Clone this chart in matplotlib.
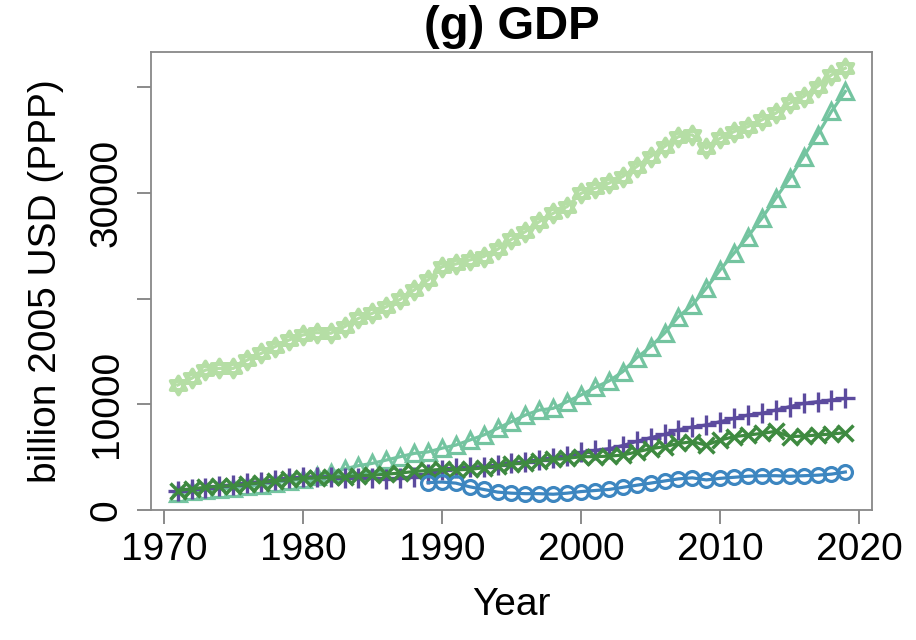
import matplotlib
matplotlib.use('Agg')
import matplotlib.pyplot as plt
from matplotlib.path import Path

plt.rcParams['font.family'] = ['Liberation Sans', 'DejaVu Sans']

years = list(range(1971, 2020))
years_blue = list(range(1989, 2020))

stars = [11830, 12460, 13245, 13400, 13400, 14190, 14820, 15450, 16080, 16560,
         16780, 16720, 17340, 18130, 18610, 19230, 19930, 20810, 21760, 23020,
         23270, 23650, 23970, 24660, 25600, 26330, 27280, 28070, 28700, 29960,
         30430, 30910, 31540, 32480, 33430, 34370, 35320, 35480, 34220, 35160,
         35790, 36260, 36900, 37530, 38480, 39100, 40050, 41150, 41790]

triangles = [1650, 1760, 1900, 2000, 2100, 2250, 2400, 2600, 2780, 2950,
             3200, 3550, 3900, 4200, 4420, 4730, 5050, 5360, 5500, 5850,
             6150, 6620, 7100, 7730, 8360, 8990, 9460, 9620, 10250, 10880,
             11600, 12200, 13090, 14400, 15450, 16720, 18290, 19390, 20970, 22710,
             24290, 25860, 27600, 29490, 31380, 33430, 35480, 37690, 39580]

plus = [1800, 1950, 2100, 2250, 2400, 2550, 2700, 2850, 3000, 3100,
        3150, 3150, 3050, 3000, 3000, 2950, 3000, 3150, 3450, 3800,
        3950, 4050, 4100, 4260, 4420, 4570, 4730, 4890, 5150, 5450,
        5650, 5800, 6100, 6500, 6850, 7150, 7600, 7850, 8050, 8360,
        8670, 8990, 9150, 9460, 9780, 10090, 10250, 10410, 10560]

crosses = [1850, 2000, 2150, 2250, 2300, 2450, 2600, 2750, 2900, 3000,
           3050, 3100, 3150, 3250, 3300, 3400, 3500, 3650, 3750, 3850,
           3800, 3850, 4000, 4160, 4350, 4480, 4670, 4790, 4890, 5050,
           5050, 5100, 5200, 5500, 5800, 6000, 6300, 6460, 6150, 6620,
           6940, 7100, 7250, 7450, 6950, 7000, 7100, 7190, 7320]

circles = [2600, 2650, 2550, 2200, 1950, 1700, 1600, 1550, 1550, 1500,
           1600, 1750, 1850, 1950, 2150, 2350, 2550, 2750, 2950, 3050,
           2850, 3000, 3100, 3200, 3250, 3250, 3200, 3250, 3300, 3400, 3600]

yticks = [0, 10000, 20000, 30000, 40000]
yticklabels = ['0', '10000', '', '30000', '']
xticks = [1970, 1980, 1990, 2000, 2010, 2020]

# star of David marker (two triangles)
star_path = Path([(0, 1), (-0.866, -0.5), (0.866, -0.5), (0, 1),
                  (0, -1), (-0.866, 0.5), (0.866, 0.5), (0, -1)],
                 [Path.MOVETO, Path.LINETO, Path.LINETO, Path.CLOSEPOLY,
                  Path.MOVETO, Path.LINETO, Path.LINETO, Path.CLOSEPOLY])

fig = plt.figure(figsize=(9.16, 6.4), dpi=100)
ax = fig.add_axes([0.1648, 0.203, 0.7872, 0.716])

lw = 2.3
ax.plot(years, stars, color='#b5dea5', lw=lw, marker=star_path, ms=13,
        mfc='none', mew=2.8)
ax.plot(years, triangles, color='#74c4a0', lw=lw, marker='^', ms=12,
        mfc='none', mew=2.3)
ax.plot(years, plus, color='#5c4b9e', lw=lw, marker='+', ms=15, mew=2.4)
ax.plot(years, crosses, color='#3e8a40', lw=lw, marker='x', ms=11, mew=2.5)
ax.plot(years_blue, circles, color='#3d86c0', lw=lw, marker='o', ms=10,
        mfc='none', mew=2.3)

ax.axhline(0, color='black', lw=0.8, ls=(0, (3, 2)))

ax.set_xlim(1969.08, 2020.92)
ax.set_ylim(0, 43330)
ax.set_xticks(xticks)
ax.set_yticks(yticks)
ax.set_yticklabels(yticklabels, rotation=90, va='center')

for s in ax.spines.values():
    s.set_color('#888888')
    s.set_linewidth(1.3)
ax.tick_params(axis='both', length=10, width=1.2, color='#777777',
               labelsize=28)
ax.tick_params(axis='x', pad=6)
ax.tick_params(axis='y', pad=9)

ax.set_xlabel('Year', fontsize=28)
ax.xaxis.set_label_coords(0.5, -0.207)
ax.set_ylabel('billion 2005 USD (PPP)', fontsize=28)
ax.yaxis.set_label_coords(-0.145, 0.5)
ax.yaxis.label.set_va('center')
ax.xaxis.label.set_va('center')

ax.set_title('(g) GDP', fontsize=34, fontweight='bold', pad=9)

fig.savefig('out.png', dpi=100)
